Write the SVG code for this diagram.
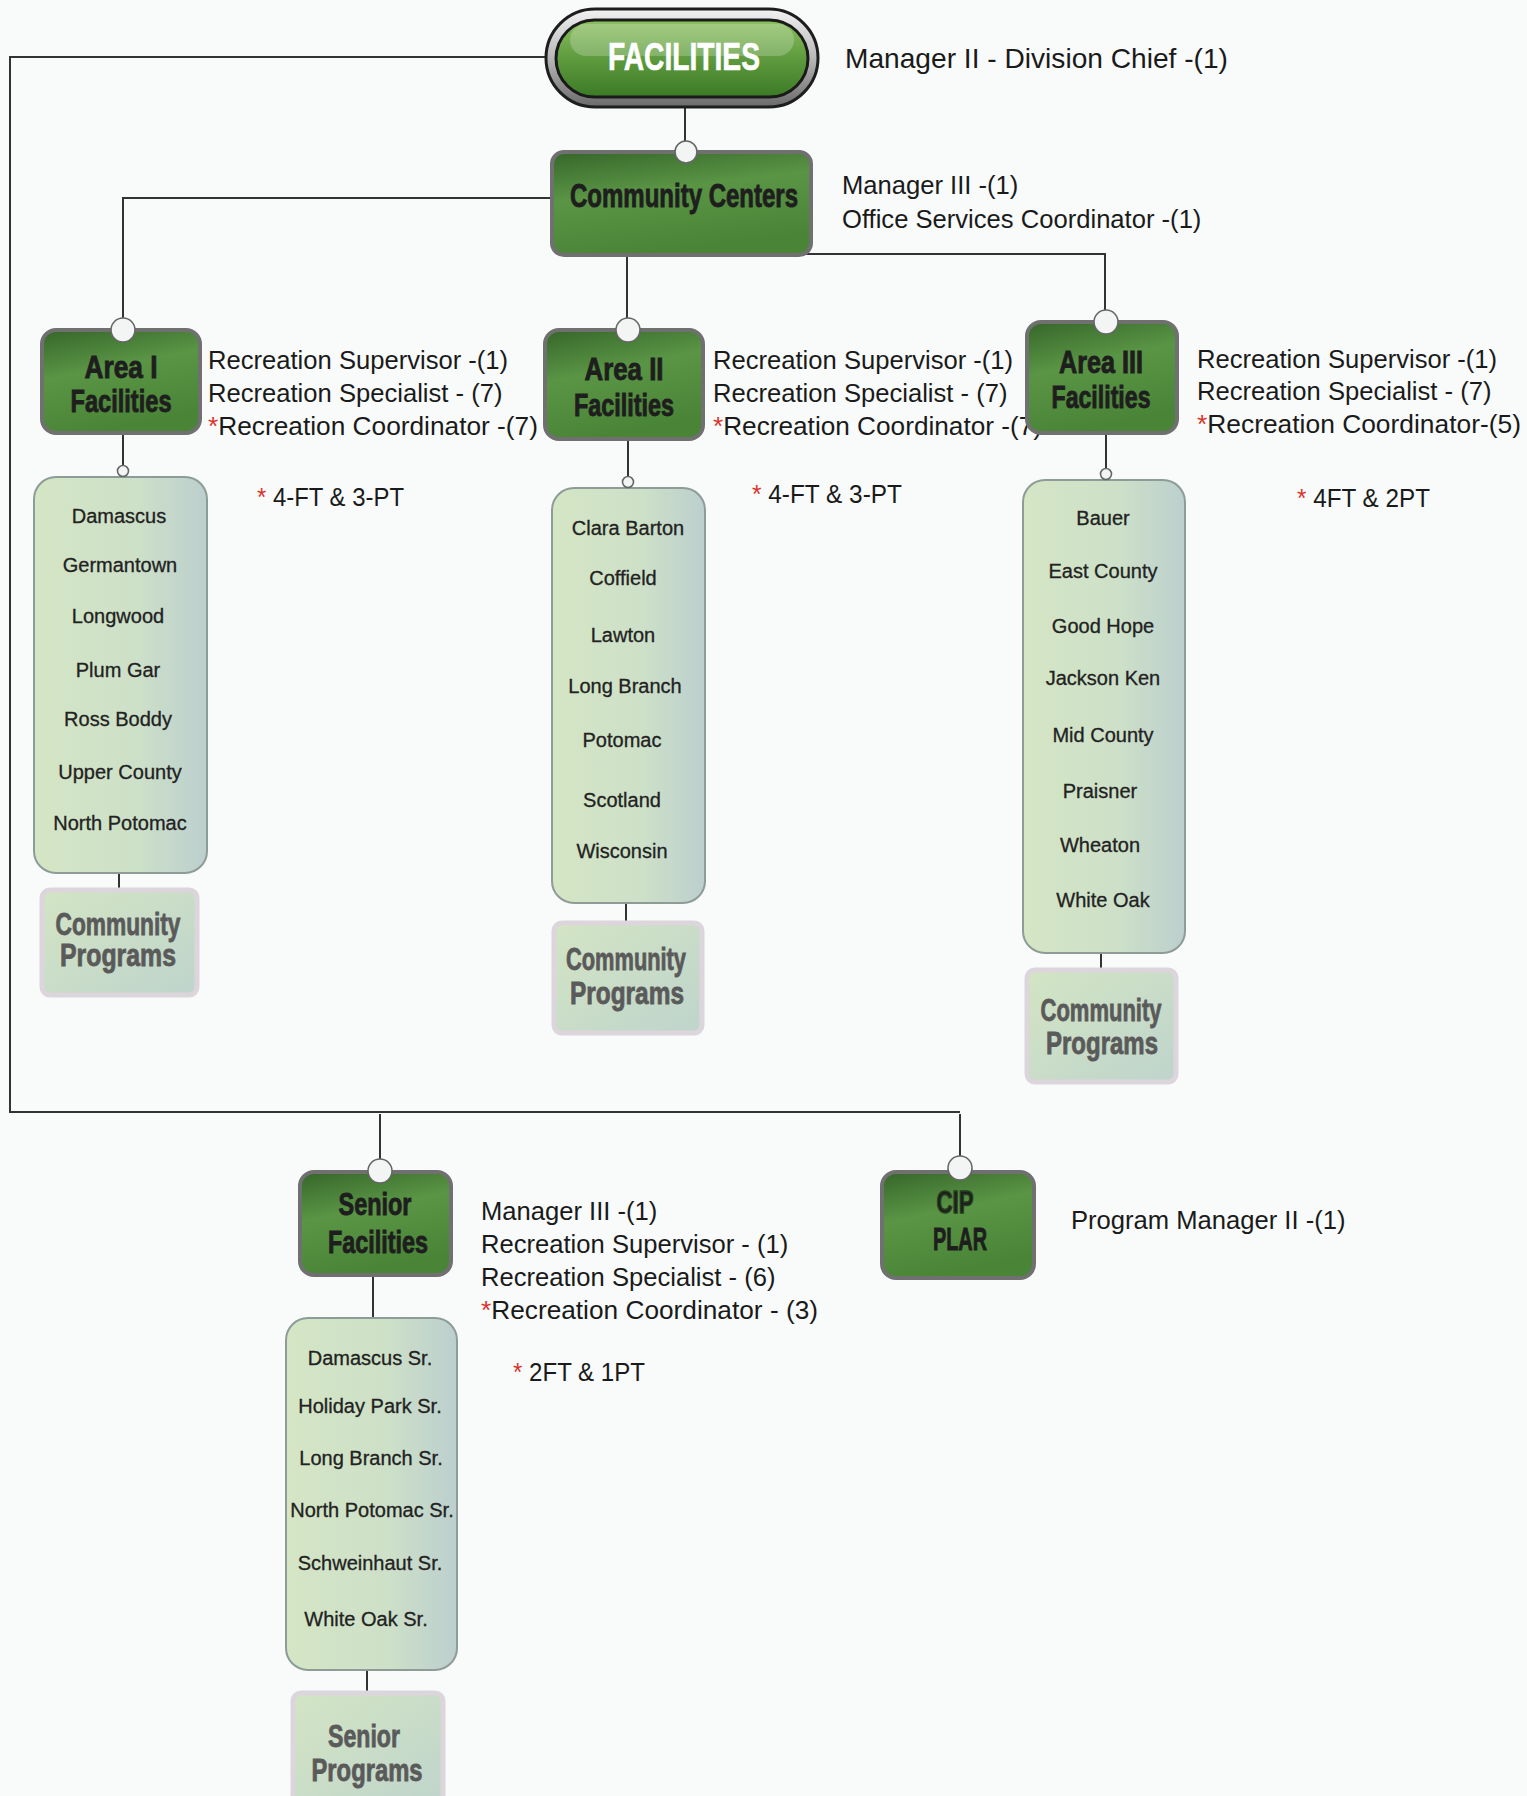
<svg xmlns="http://www.w3.org/2000/svg" width="1527" height="1796" viewBox="0 0 1527 1796">
<defs>
<linearGradient id="gDark" x1="0" y1="0" x2="0.3" y2="1">
<stop offset="0" stop-color="#36662a"/>
<stop offset="0.45" stop-color="#5a9545"/>
<stop offset="1" stop-color="#4a8437"/>
</linearGradient>
<linearGradient id="gPill" x1="0" y1="0" x2="0" y2="1">
<stop offset="0" stop-color="#8cc060"/>
<stop offset="0.5" stop-color="#5e9a3e"/>
<stop offset="1" stop-color="#3c7a26"/>
</linearGradient>
<linearGradient id="gRing" x1="0" y1="0" x2="0" y2="1">
<stop offset="0" stop-color="#f2f2f2"/>
<stop offset="0.5" stop-color="#b8b8b8"/>
<stop offset="1" stop-color="#6a6a6a"/>
</linearGradient>
<linearGradient id="gLight" x1="0" y1="0" x2="1" y2="0">
<stop offset="0" stop-color="#d5e6c5"/>
<stop offset="0.6" stop-color="#cde0c8"/>
<stop offset="1" stop-color="#bccfce"/>
</linearGradient>
<linearGradient id="gProg" x1="0" y1="0" x2="1" y2="1">
<stop offset="0" stop-color="#d3e5c4"/>
<stop offset="1" stop-color="#bfd4cc"/>
</linearGradient>
<style>
.ln{fill:none;stroke:#333;stroke-width:2}
.joint{fill:#f3f5f5;stroke:#666;stroke-width:1.6}
.dark{fill:url(#gDark);stroke:#707070;stroke-width:4}
.list{fill:url(#gLight);stroke:#8e9c98;stroke-width:2}
.prog{fill:url(#gProg);stroke:#dcd5dc;stroke-width:5}
.hd{font-family:"Liberation Sans",Arial,sans-serif;font-weight:bold;font-size:32px;fill:#1e1e1e;stroke:#1e1e1e;stroke-width:0.9;text-anchor:middle}
.pg{font-family:"Liberation Sans",Arial,sans-serif;font-weight:bold;font-size:31px;fill:#5a5a5a;stroke:#5a5a5a;stroke-width:0.8;text-anchor:middle}
.item{font-family:"Liberation Sans",Arial,sans-serif;font-size:20px;fill:#222;stroke:#222;stroke-width:0.3;text-anchor:middle}
.role{font-family:"Liberation Sans",Arial,sans-serif;font-size:25.6px;fill:#1a1a1a}
.star{fill:#d8332c}
</style>
</defs>
<rect x="0" y="0" width="1527" height="1796" fill="#f8fbfa"/>

<g id="connectors">
<path class="ln" d="M548 57 H10 V1112 H960"/>
<path class="ln" d="M685 107 V141"/>
<path class="ln" d="M560 198 H123 V318"/>
<path class="ln" d="M627 250 V318"/>
<path class="ln" d="M800 254 H1105 V310"/>
<path class="ln" d="M123 433 V465"/>
<path class="ln" d="M628 439 V476"/>
<path class="ln" d="M1106 433 V468"/>
<path class="ln" d="M119 873 V890"/>
<path class="ln" d="M626 903 V923"/>
<path class="ln" d="M1101 953 V970"/>
<path class="ln" d="M380 1114 V1159"/>
<path class="ln" d="M960 1114 V1156"/>
<path class="ln" d="M373 1275 V1318"/>
<path class="ln" d="M367 1670 V1693"/>
</g>

<g id="node-facilities">
<rect x="546" y="9" width="272" height="98" rx="49" fill="url(#gRing)" stroke="#1e1e1e" stroke-width="3"/>
<rect x="556" y="20" width="252" height="77" rx="38.5" fill="url(#gPill)" stroke="#1a1a1a" stroke-width="3"/>
<rect x="570" y="24" width="224" height="32" rx="16" fill="#ffffff" opacity="0.22"/>
<text x="684" y="70" font-family="Liberation Sans, Arial, sans-serif" font-weight="bold" font-size="38" fill="#ffffff" stroke="#ffffff" stroke-width="0.6" text-anchor="middle" textLength="152" lengthAdjust="spacingAndGlyphs">FACILITIES</text>
</g>
<g id="label-facilities">
<text x="845" y="68" class="role" style="font-size:28px" textLength="383" lengthAdjust="spacingAndGlyphs">Manager II - Division Chief -(1)</text>
</g>

<g id="node-community-centers">
<rect class="dark" x="552" y="152" width="259" height="103" rx="12"/>
<text class="hd" x="684" y="207" style="font-size:34px" textLength="228" lengthAdjust="spacingAndGlyphs">Community Centers</text>
</g>
<g id="label-community-centers">
<text x="842" y="194" class="role">Manager III -(1)</text>
<text x="842" y="228" class="role">Office Services Coordinator -(1)</text>
</g>

<g id="node-area1">
<rect class="dark" x="42" y="330" width="158" height="103" rx="14"/>
<text class="hd" x="121" y="378" textLength="73" lengthAdjust="spacingAndGlyphs">Area I</text>
<text class="hd" x="121" y="412" textLength="101" lengthAdjust="spacingAndGlyphs">Facilities</text>
</g>
<g id="label-area1">
<text x="208" y="369" class="role">Recreation Supervisor -(1)</text>
<text x="208" y="402" class="role">Recreation Specialist - (7)</text>
<text x="208" y="435" class="role" textLength="330" lengthAdjust="spacingAndGlyphs"><tspan class="star">*</tspan>Recreation Coordinator -(7)</text>
<text x="257" y="506" class="role" textLength="147" lengthAdjust="spacingAndGlyphs"><tspan class="star">*</tspan> 4-FT &amp; 3-PT</text>
</g>
<g id="node-area1-list">
<rect class="list" x="34" y="477" width="173" height="396" rx="22"/>
<text class="item" x="119" y="523">Damascus</text>
<text class="item" x="120" y="572">Germantown</text>
<text class="item" x="118" y="623">Longwood</text>
<text class="item" x="118" y="677">Plum Gar</text>
<text class="item" x="118" y="726">Ross Boddy</text>
<text class="item" x="120" y="779">Upper County</text>
<text class="item" x="120" y="830">North Potomac</text>
</g>
<g id="node-area1-programs">
<rect class="prog" x="42" y="890" width="155" height="105" rx="8"/>
<text class="pg" x="118" y="935" textLength="125" lengthAdjust="spacingAndGlyphs">Community</text>
<text class="pg" x="118" y="966" textLength="116" lengthAdjust="spacingAndGlyphs">Programs</text>
</g>

<g id="node-area2">
<rect class="dark" x="545" y="330" width="158" height="109" rx="14"/>
<text class="hd" x="624" y="380" textLength="79" lengthAdjust="spacingAndGlyphs">Area II</text>
<text class="hd" x="624" y="416" textLength="100" lengthAdjust="spacingAndGlyphs">Facilities</text>
</g>
<g id="label-area2">
<text x="713" y="369" class="role">Recreation Supervisor -(1)</text>
<text x="713" y="402" class="role">Recreation Specialist - (7)</text>
<text x="713" y="435" class="role" textLength="329" lengthAdjust="spacingAndGlyphs"><tspan class="star">*</tspan>Recreation Coordinator -(7)</text>
<text x="752" y="503" class="role" textLength="150" lengthAdjust="spacingAndGlyphs"><tspan class="star">*</tspan> 4-FT &amp; 3-PT</text>
</g>
<g id="node-area2-list">
<rect class="list" x="552" y="488" width="153" height="415" rx="22"/>
<text class="item" x="628" y="535">Clara Barton</text>
<text class="item" x="623" y="585">Coffield</text>
<text class="item" x="623" y="642">Lawton</text>
<text class="item" x="625" y="693">Long Branch</text>
<text class="item" x="622" y="747">Potomac</text>
<text class="item" x="622" y="807">Scotland</text>
<text class="item" x="622" y="858">Wisconsin</text>
</g>
<g id="node-area2-programs">
<rect class="prog" x="554" y="923" width="148" height="110" rx="8"/>
<text class="pg" x="626" y="970" textLength="120" lengthAdjust="spacingAndGlyphs">Community</text>
<text class="pg" x="627" y="1004" textLength="114" lengthAdjust="spacingAndGlyphs">Programs</text>
</g>

<g id="node-area3">
<rect class="dark" x="1027" y="322" width="150" height="111" rx="14"/>
<text class="hd" x="1101" y="373" textLength="84" lengthAdjust="spacingAndGlyphs">Area III</text>
<text class="hd" x="1101" y="408" textLength="99" lengthAdjust="spacingAndGlyphs">Facilities</text>
</g>
<g id="label-area3">
<text x="1197" y="368" class="role">Recreation Supervisor -(1)</text>
<text x="1197" y="400" class="role">Recreation Specialist - (7)</text>
<text x="1197" y="433" class="role" textLength="324" lengthAdjust="spacingAndGlyphs"><tspan class="star">*</tspan>Recreation Coordinator-(5)</text>
<text x="1297" y="507" class="role" textLength="133" lengthAdjust="spacingAndGlyphs"><tspan class="star">*</tspan> 4FT &amp; 2PT</text>
</g>
<g id="node-area3-list">
<rect class="list" x="1023" y="480" width="162" height="473" rx="22"/>
<text class="item" x="1103" y="525">Bauer</text>
<text class="item" x="1103" y="578">East County</text>
<text class="item" x="1103" y="633">Good Hope</text>
<text class="item" x="1103" y="685">Jackson Ken</text>
<text class="item" x="1103" y="742">Mid County</text>
<text class="item" x="1100" y="798">Praisner</text>
<text class="item" x="1100" y="852">Wheaton</text>
<text class="item" x="1103" y="907">White Oak</text>
</g>
<g id="node-area3-programs">
<rect class="prog" x="1027" y="970" width="149" height="112" rx="8"/>
<text class="pg" x="1101" y="1021" textLength="121" lengthAdjust="spacingAndGlyphs">Community</text>
<text class="pg" x="1102" y="1054" textLength="112" lengthAdjust="spacingAndGlyphs">Programs</text>
</g>

<g id="node-senior">
<rect class="dark" x="300" y="1172" width="151" height="103" rx="14"/>
<text class="hd" x="375" y="1215" textLength="73" lengthAdjust="spacingAndGlyphs">Senior</text>
<text class="hd" x="378" y="1253" textLength="100" lengthAdjust="spacingAndGlyphs">Facilities</text>
</g>
<g id="label-senior">
<text x="481" y="1220" class="role">Manager III -(1)</text>
<text x="481" y="1253" class="role">Recreation Supervisor - (1)</text>
<text x="481" y="1286" class="role">Recreation Specialist - (6)</text>
<text x="481" y="1319" class="role" textLength="337" lengthAdjust="spacingAndGlyphs"><tspan class="star">*</tspan>Recreation Coordinator - (3)</text>
<text x="513" y="1381" class="role" textLength="132" lengthAdjust="spacingAndGlyphs"><tspan class="star">*</tspan> 2FT &amp; 1PT</text>
</g>
<g id="node-senior-list">
<rect class="list" x="286" y="1318" width="171" height="352" rx="22"/>
<text class="item" x="370" y="1365">Damascus Sr.</text>
<text class="item" x="370" y="1413">Holiday Park Sr.</text>
<text class="item" x="371" y="1465">Long Branch Sr.</text>
<text class="item" x="372" y="1517">North Potomac Sr.</text>
<text class="item" x="370" y="1570">Schweinhaut Sr.</text>
<text class="item" x="366" y="1626">White Oak Sr.</text>
</g>
<g id="node-senior-programs">
<rect class="prog" x="293" y="1693" width="150" height="120" rx="8"/>
<text class="pg" x="364" y="1747" textLength="72" lengthAdjust="spacingAndGlyphs">Senior</text>
<text class="pg" x="367" y="1781" textLength="111" lengthAdjust="spacingAndGlyphs">Programs</text>
</g>

<g id="node-cip">
<rect class="dark" x="882" y="1172" width="152" height="106" rx="14"/>
<text class="hd" x="955" y="1213" textLength="37" lengthAdjust="spacingAndGlyphs" style="stroke:#24401c;stroke-width:1.5">CIP</text>
<text class="hd" x="960" y="1250" textLength="54" lengthAdjust="spacingAndGlyphs">PLAR</text>
</g>
<g id="label-cip">
<text x="1071" y="1229" class="role">Program Manager II -(1)</text>
</g>

<g id="connector-joints">
<circle class="joint" cx="686" cy="152" r="11"/>
<circle class="joint" cx="123" cy="330" r="12"/>
<circle class="joint" cx="628" cy="330" r="12"/>
<circle class="joint" cx="1106" cy="322" r="12"/>
<circle class="joint" cx="123" cy="471" r="5.5"/>
<circle class="joint" cx="628" cy="482" r="5.5"/>
<circle class="joint" cx="1106" cy="474" r="5.5"/>
<circle class="joint" cx="380" cy="1171" r="12"/>
<circle class="joint" cx="960" cy="1168" r="12"/>
</g>
</svg>
